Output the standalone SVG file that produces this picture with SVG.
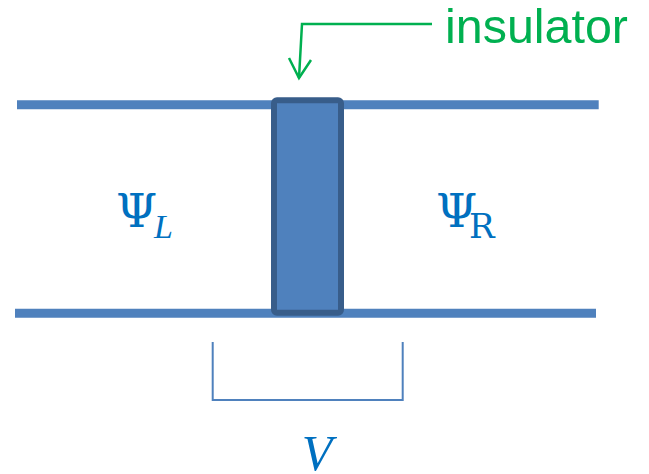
<svg xmlns="http://www.w3.org/2000/svg" width="649" height="474" viewBox="0 0 649 474">
<style>
.rail{stroke:#4f81bd;stroke-width:9;fill:none}
.math{fill:#0070c0;font-family:"DejaVu Serif","Liberation Serif",serif}
.green{stroke:#00b050;stroke-width:2.5;fill:none}
</style>
<rect width="649" height="474" fill="#ffffff"/>
<g id="connectors">
<line class="rail" x1="17" y1="104.7" x2="598.7" y2="104.7"/>
<line class="rail" x1="15" y1="313.2" x2="596" y2="313.2"/>
<polyline class="green" points="432,24 302,24 299,78"/>
<polyline class="green" points="289,58 299,78 311,60"/>
<polyline points="212.7,342 212.7,400 402.7,400 402.7,342" fill="none" stroke="#4f81bd" stroke-width="2"/>
</g>
<g id="insulator">
<rect x="274" y="100.3" width="67" height="212.4" rx="3" fill="#4f81bd" stroke="#385d8a" stroke-width="6"/>
</g>
<g id="insulator-label">
<text x="445" y="43" font-family="'Liberation Sans',Arial,sans-serif" font-size="48" fill="#00b050" textLength="183" lengthAdjust="spacingAndGlyphs">insulator</text>
</g>
<g id="psi-left">
<text class="math" x="116" y="227" font-size="47">Ψ</text>
<text x="154" y="238" font-size="34" font-style="italic" fill="#0070c0" font-family="'Liberation Serif',serif">L</text>
</g>
<g id="psi-right">
<text class="math" x="436" y="227" font-size="47">Ψ</text>
<text class="math" x="469" y="238" font-size="34">R</text>
</g>
<g id="voltage">
<text x="317" y="470" font-size="50" font-style="italic" text-anchor="middle" fill="#0070c0" font-family="'Liberation Serif',serif">V</text>
</g>
</svg>
